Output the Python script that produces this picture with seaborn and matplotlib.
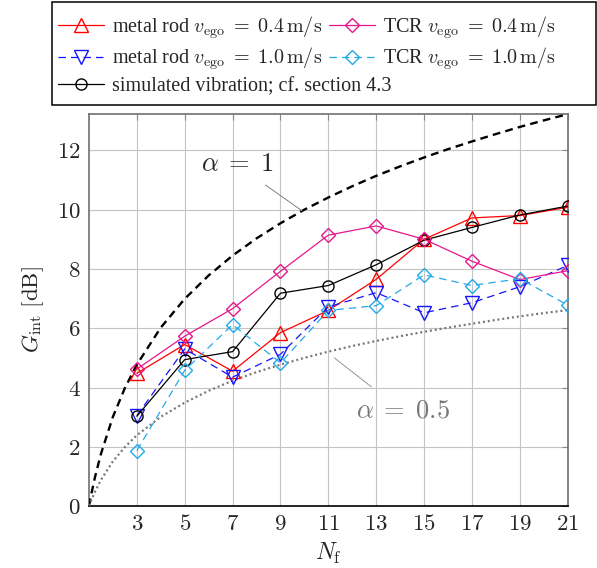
import numpy as np
import pandas as pd
import seaborn as sns
import matplotlib.pyplot as plt
from matplotlib.patches import Rectangle

# filter length N_f
n_f = [3, 5, 7, 9, 11, 13, 15, 17, 19, 21]

# integration gain G_int [dB]
rod_04 = [4.48, 5.45, 4.55, 5.85, 6.6, 7.65, 9.0, 9.72, 9.8, 10.08]
tcr_04 = [4.62, 5.73, 6.66, 7.92, 9.14, 9.45, 9.0, 8.26, 7.64, 7.94]
rod_10 = [3.05, 5.3, 4.35, 5.12, 6.72, 7.2, 6.52, 6.86, 7.4, 8.12]
tcr_10 = [1.87, 4.58, 6.12, 4.83, 6.6, 6.76, 7.8, 7.44, 7.67, 6.78]
sim_vib = [3.03, 4.94, 5.21, 7.18, 7.44, 8.14, 8.97, 9.4, 9.82, 10.12]

# reference curves alpha * 10 log10(N)
n_ref = [1, 1.1, 1.25, 1.5, 2, 2.5, 3, 4, 5, 6, 7, 8, 9, 10, 11, 12, 13,
         14, 15, 16, 17, 18, 19, 20, 21]
g_alpha1 = [0, 0.41, 0.97, 1.76, 3.01, 3.98, 4.77, 6.02, 6.99, 7.78, 8.45,
            9.03, 9.54, 10.0, 10.41, 10.79, 11.14, 11.46, 11.76, 12.04,
            12.3, 12.55, 12.79, 13.01, 13.22]
g_alpha05 = [0, 0.21, 0.48, 0.88, 1.51, 1.99, 2.39, 3.01, 3.49, 3.89, 4.23,
             4.52, 4.77, 5.0, 5.21, 5.4, 5.57, 5.73, 5.88, 6.02, 6.15, 6.28,
             6.4, 6.51, 6.61]

sns.set_theme(style="white")
plt.rcParams["font.family"] = ["Liberation Serif", "DejaVu Serif"]
plt.rcParams["mathtext.fontset"] = "cm"

fig = plt.figure(figsize=(5.97, 5.68), dpi=100)
ax = fig.add_axes([0.149, 0.109, 0.802, 0.690])

ax.grid(True, color="#c4c4c4", linewidth=0.8)
ax.set_axisbelow(True)

sns.lineplot(x=n_ref, y=g_alpha1, ax=ax, color="black", linewidth=1.7,
             linestyle=(0, (3.3, 2.2)), zorder=3)
sns.lineplot(x=n_ref, y=g_alpha05, ax=ax, color="#777777", linewidth=1.6,
             linestyle=(0, (0.9, 1.3)), zorder=3)

eq = r"\;=\;"
series = [
    (rod_04, "red", "^", "-", r"metal rod $v_\mathrm{ego}" + eq + r"0.4\,\mathrm{m/s}$", 9.5),
    (rod_10, "#1414ff", "v", (0, (6, 4)), r"metal rod $v_\mathrm{ego}" + eq + r"1.0\,\mathrm{m/s}$", 9.5),
    (sim_vib, "black", "o", "-", r"simulated vibration; cf. section 4.3", 8),
    (tcr_04, "#e8168c", "D", "-", r"TCR $v_\mathrm{ego}" + eq + r"0.4\,\mathrm{m/s}$", 7.5),
    (tcr_10, "#22aae6", "D", (0, (6, 4)), r"TCR $v_\mathrm{ego}" + eq + r"1.0\,\mathrm{m/s}$", 7.5),
]
for vals, col, mk, ls, lab, ms in series:
    sns.lineplot(x=n_f, y=vals, ax=ax, color=col, marker=mk, markersize=ms,
                 markerfacecolor="none", markeredgecolor=col,
                 markeredgewidth=1.0, linewidth=0.9, linestyle=ls,
                 label=lab, zorder=4)

if ax.get_legend() is not None:
    ax.get_legend().remove()

ax.set_xlim(1, 21)
ax.set_ylim(0, 13.22)
ax.set_xticks(n_f)
ax.set_yticks([0, 2, 4, 6, 8, 10, 12])
ax.set_xticklabels([f"${v}$" for v in n_f])
ax.set_yticklabels([f"${v}$" for v in [0, 2, 4, 6, 8, 10, 12]])
ax.tick_params(labelsize=16.5, direction="in", length=4, color="#888888",
               width=0.8, pad=6, top=True, right=True)

for side in ["left", "top", "right"]:
    ax.spines[side].set_color("#707070")
    ax.spines[side].set_linewidth(1.2)
ax.spines["bottom"].set_color("black")
ax.spines["bottom"].set_linewidth(1.2)

ax.set_xlabel(r"$N_\mathrm{f}$", fontsize=17, labelpad=4)
ax.set_ylabel(r"$G_\mathrm{int}\ [\mathrm{dB}]$", fontsize=16.5, labelpad=8)

ax.annotate(r"$\alpha" + eq + r"1$", xy=(9.9, 9.96), xytext=(7.2, 11.5),
            fontsize=19, ha="center", va="center",
            arrowprops=dict(arrowstyle="-", color="#808080", lw=0.7,
                            shrinkA=7, shrinkB=0))
ax.annotate(r"$\alpha" + eq + r"0.5$", xy=(11.25, 5.0), xytext=(14.1, 3.2),
            fontsize=19, ha="center", va="center", color="#777777",
            arrowprops=dict(arrowstyle="-", color="#808080", lw=0.7,
                            linestyle=(0, (1, 1)), shrinkA=12, shrinkB=0))

# legend: two columns for the first four entries, a full-width row below
handles, labels = ax.get_legend_handles_labels()
handles, labels = handles[-5:], labels[-5:]
W, H = 597.0, 568.0
leg_kw = dict(fontsize=14.5, frameon=False, handlelength=2.3,
              handletextpad=0.4, borderpad=0.0, borderaxespad=0.0,
              labelspacing=0.25)
leg1 = fig.legend([handles[0], handles[1], handles[3], handles[4]],
                  [labels[0], labels[1], labels[3], labels[4]], ncol=2,
                  loc="upper left", bbox_to_anchor=(58 / W, 1 - 14 / H),
                  columnspacing=0.3, **leg_kw)
leg2 = fig.legend([handles[2]], [labels[2]], loc="upper left",
                  bbox_to_anchor=(58 / W, 1 - 77 / H), **leg_kw)
fig.add_artist(Rectangle((52 / W, 1 - 105 / H), 544 / W, 103 / H,
                         transform=fig.transFigure, fill=False,
                         edgecolor="black", linewidth=1.1))

fig.savefig("out.png", dpi=100)
